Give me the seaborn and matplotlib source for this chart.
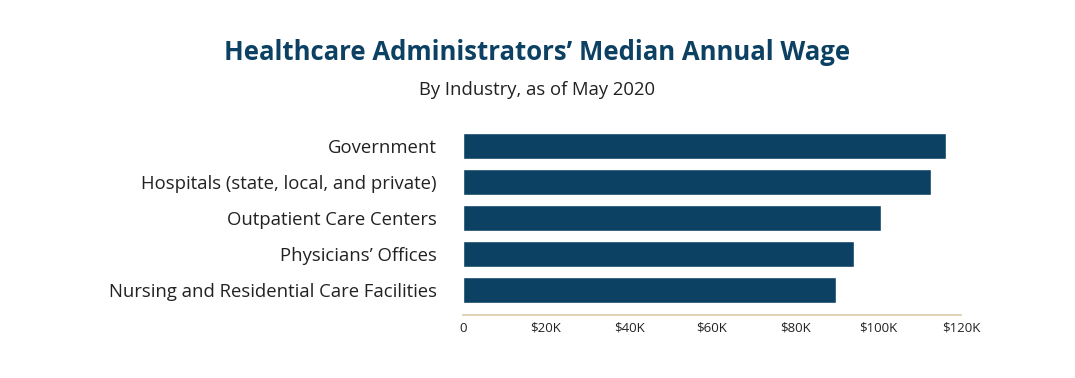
import matplotlib
matplotlib.use("Agg")
import matplotlib.pyplot as plt
import seaborn as sns
import pandas as pd
from matplotlib.ticker import FuncFormatter

# Median annual wage by industry (May 2020), in dollars
industries = [
    "Government",
    "Hospitals (state, local, and private)",
    "Outpatient Care Centers",
    "Physicians’ Offices",
    "Nursing and Residential Care Facilities",
]
wages = [116380, 112870, 100690, 94200, 89880]
x_ticks = [0, 20000, 40000, 60000, 80000, 100000, 120000]

df = pd.DataFrame({"industry": industries, "wage": wages})

sns.set_style("white")
plt.rcParams["font.family"] = ["Open Sans", "DejaVu Sans"]

navy = "#0c4163"
tan = "#dccba4"
text_color = "#222222"

fig = plt.figure(figsize=(10.75, 3.78), dpi=100)
ax = fig.add_axes([0.4307, 0.1667, 0.4633, 0.4947])

sns.barplot(data=df, x="wage", y="industry", orient="h", color=navy,
            saturation=1, width=0.72, ax=ax)

ax.set_xlim(0, 120000)
ax.set_ylim(4.69, -0.5)
ax.set_xticks(x_ticks)
ax.xaxis.set_major_formatter(FuncFormatter(
    lambda v, p: "0" if v == 0 else f"${int(v / 1000)}K"))
ax.set_xlabel("")
ax.set_ylabel("")

for side in ["top", "right", "left"]:
    ax.spines[side].set_visible(False)
ax.spines["bottom"].set_color(tan)
ax.spines["bottom"].set_linewidth(1.2)
ax.tick_params(axis="x", direction="in", length=4, width=1, color=tan,
               labelsize=9.5, labelcolor=text_color, pad=5)
ax.tick_params(axis="y", length=0, labelsize=13.3, labelcolor=text_color, pad=19)

fig.text(0.5, 0.862, "Healthcare Administrators’ Median Annual Wage",
         ha="center", va="center", fontsize=18.5, fontweight="bold", color=navy)
fig.text(0.5, 0.762, "By Industry, as of May 2020",
         ha="center", va="center", fontsize=13.3, color=text_color)

fig.savefig("out.png", dpi=100)
